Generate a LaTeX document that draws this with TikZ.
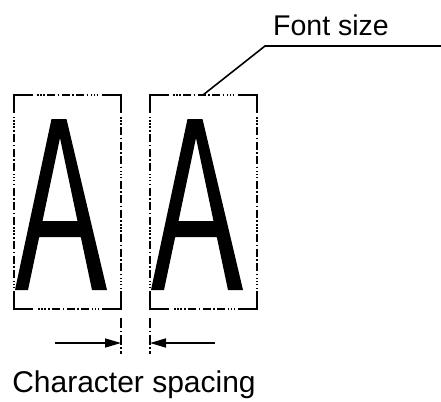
\documentclass[tikz,border=0pt]{standalone}
\usepackage{fontspec}
\setmainfont{Liberation Sans}
\usetikzlibrary{arrows.meta}
\begin{document}
\begin{tikzpicture}[x=1pt,y=-1pt,line width=1.6pt,
  chainline/.style={dash pattern=on 1.5pt off 1.5pt on 1.5pt off 1.5pt on 1.5pt off 2.5pt
      on 8pt off 2.5pt on 1.5pt off 2.5pt on 8pt off 2.5pt on 1.5pt off 2.5pt
      on 8pt off 2.5pt on 1.5pt off 2.5pt},
  extline/.style={dash pattern=on 10pt off 2.5pt on 1.5pt off 2.5pt},
  txt/.style={inner sep=0pt,anchor=base},
  dimarrow/.style={-{Triangle[length=16pt,width=9pt]},line width=1.6pt}]
\useasboundingbox (0,0) rectangle (441,401);

% two character cells, each a framed capital A
\foreach \dx/\nm in {0/L,136/R}{
  \begin{scope}[xshift=\dx pt]
    % frame corners
    \draw (14,113) -- (14,95) -- (33,95);
    \draw (102,95) -- (121,95) -- (121,113);
    \draw (121,291) -- (121,309) -- (102,309);
    \draw (33,309) -- (14,309) -- (14,291);
    % chain-line parts of the frame
    \draw[chainline] (37,95) -- (99,95);
    \draw[chainline] (121,117) -- (121,288);
    \draw[chainline] (99,309) -- (37,309);
    \draw[chainline] (14,288) -- (14,117);
    % the letter
    \fill[even odd rule] (15,290) -- (51.5,119) -- (66.5,119) -- (107,290) -- (92,290)
      -- (80.8,237) -- (39.2,237) -- (28,290) -- cycle
      (42.5,221) -- (60,138) -- (77.5,221) -- cycle;
  \end{scope}
}

% extension lines below the gap
\coordinate (gapL) at (121,343);
\coordinate (gapR) at (150,343);
\draw[extline] (121,318) -- (121,354);
\draw[extline] (150,318) -- (150,354);

% spacing arrows
\coordinate (tailL) at (55,343);
\coordinate (tailR) at (215,343);
\draw[dimarrow] (tailL) -- (gapL);
\draw[dimarrow] (tailR) -- (gapR);

% labels
\node[txt,font=\fontsize{30pt}{34pt}\selectfont] (cs) at (134,392) {Character spacing};
\node[txt,font=\fontsize{28.5pt}{32pt}\selectfont] (fs) at (331,36) {Font size};

% leader for the font size
\coordinate (fsTip) at (203,95);
\coordinate (knee) at (265,46);
\coordinate (fsEnd) at (441,46);
\draw (fsTip) -- (knee) -- (fsEnd);
\end{tikzpicture}
\end{document}
